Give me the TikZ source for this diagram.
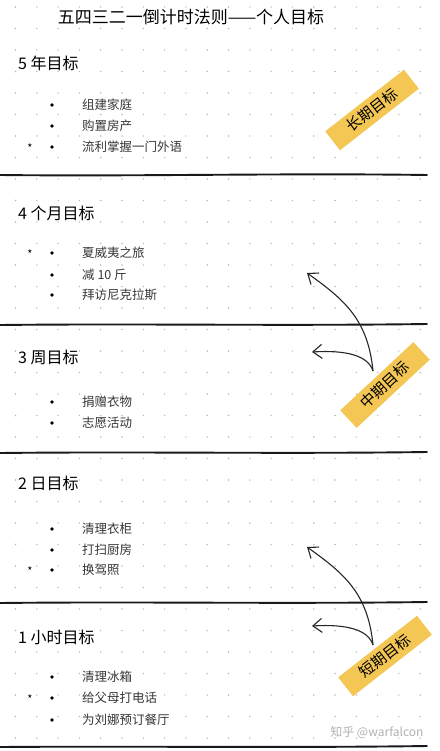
\documentclass[tikz,border=0pt]{standalone}
\usepackage{fontspec}
\setmainfont{Noto Sans CJK SC}
\definecolor{TapeYellow}{RGB}{244,199,84}
\definecolor{DotGray}{RGB}{185,185,185}
\definecolor{InkGray}{RGB}{55,55,55}
\usetikzlibrary{
    arrows.meta,
    calc,
}

\begin{document}
\begin{tikzpicture}[
    x=1pt, y=-1pt,
    heading/.style={anchor=west, inner sep=0pt, font=\fontsize{16}{18}\selectfont},
    item/.style={anchor=west, inner sep=0pt, text=InkGray, font=\fontsize{12.5}{14}\selectfont},
    bulletdot/.style={circle, fill=black, inner sep=0pt, minimum size=3.6pt},
    starmark/.style={inner sep=0pt, font=\fontsize{11}{12}\selectfont},
    divider/.style={line width=1.9pt, black!90, line cap=round},
    tape/.style={fill=TapeYellow, rotate=#1, minimum width=100pt, minimum height=24pt, font=\fontsize{15}{16}\selectfont},
    curvearr/.style={-{Straight Barb[length=9pt, width=14pt]}, line width=1.1pt, black!85}
]
    \fill[white] (0,0) rectangle (439,751);
    \useasboundingbox (0,0) rectangle (439,751);
    % dotted page
    \foreach \i in {0,...,19}
        \foreach \j in {0,...,34}
            \fill[DotGray] (15.5+21.3*\i, 7+21.5*\j) circle (0.8pt);

    \node[font=\fontsize{17}{19}\selectfont] (title) at (191,17) {五四三二一倒计时法则——个人目标};

    % 5 years
    \node[heading] (h5y) at (18,63) {5 年目标};
    \node[bulletdot] (b5y1) at (52,105) {};
    \node[item] (t5y1) at (82,105) {组建家庭};
    \node[bulletdot] (b5y2) at (52,126) {};
    \node[item] (t5y2) at (82,126) {购置房产};
    \node[starmark] (s5y3) at (30,148) {*};
    \node[bulletdot] (b5y3) at (52,147) {};
    \node[item] (t5y3) at (82,147) {流利掌握一门外语};
    \draw[divider] (0,175) .. controls (140,176.5) and (280,173) .. (427,175);

    % 4 months
    \node[heading] (h4m) at (18,213) {4 个月目标};
    \node[starmark] (s4m1) at (30,254) {*};
    \node[bulletdot] (b4m1) at (52,253) {};
    \node[item] (t4m1) at (82,253) {夏威夷之旅};
    \node[bulletdot] (b4m2) at (52,275) {};
    \node[item] (t4m2) at (82,275) {减 10 斤};
    \node[bulletdot] (b4m3) at (52,295) {};
    \node[item] (t4m3) at (82,295) {拜访尼克拉斯};
    \draw[divider] (0,325) .. controls (140,323.5) and (280,326) .. (427,324);

    % 3 weeks
    \node[heading] (h3w) at (18,357) {3 周目标};
    \node[bulletdot] (b3w1) at (52,402) {};
    \node[item] (t3w1) at (82,402) {捐赠衣物};
    \node[bulletdot] (b3w2) at (52,423) {};
    \node[item] (t3w2) at (82,423) {志愿活动};
    \draw[divider] (0,453) .. controls (140,451.5) and (280,454) .. (427,452);

    % 2 days
    \node[heading] (h2d) at (18,483) {2 日目标};
    \node[bulletdot] (b2d1) at (52,529) {};
    \node[item] (t2d1) at (82,529) {清理衣柜};
    \node[bulletdot] (b2d2) at (52,550) {};
    \node[item] (t2d2) at (82,550) {打扫厨房};
    \node[starmark] (s2d3) at (30,571) {*};
    \node[bulletdot] (b2d3) at (52,570) {};
    \node[item] (t2d3) at (82,570) {换驾照};
    \draw[divider] (0,603) .. controls (140,601.5) and (280,604) .. (427,602);

    % 1 hour
    \node[heading] (h1h) at (18,637) {1 小时目标};
    \node[bulletdot] (b1h1) at (52,677) {};
    \node[item] (t1h1) at (82,677) {清理冰箱};
    \node[starmark] (s1h2) at (30,699) {*};
    \node[bulletdot] (b1h2) at (52,698) {};
    \node[item] (t1h2) at (82,698) {给父母打电话};
    \node[bulletdot] (b1h3) at (52,720) {};
    \node[item] (t1h3) at (82,720) {为刘娜预订餐厅};
    \draw[divider] (0,747) .. controls (140,746) and (280,748) .. (427,746);

    \node[anchor=east, text=gray!60, font=\fontsize{12}{14}\selectfont] (mark) at (427,732) {知乎 @warfalcon};

    % tapes and arrows
    \node[tape=38] (longtape) at (372,110) {长期目标};
    \node[tape=43] (midtape) at (385,385) {中期目标};
    \node[tape=38] (shorttape) at (385,656) {短期目标};

    \coordinate (midtail) at (373,371);
    \coordinate (midup) at (307,273);
    \coordinate (midleft) at (312,352);
    \draw[curvearr] (midtail) .. controls +(-5,-51) and +(38,27) .. (midup);
    \draw[curvearr] (midtail) .. controls +(-5,-16) and +(33,-2) .. (midleft);

    \coordinate (shorttail) at (373,645);
    \coordinate (shortup) at (307,547);
    \coordinate (shortleft) at (312,626);
    \draw[curvearr] (shorttail) .. controls +(-5,-51) and +(38,27) .. (shortup);
    \draw[curvearr] (shorttail) .. controls +(-5,-16) and +(33,-2) .. (shortleft);
\end{tikzpicture}
\end{document}
